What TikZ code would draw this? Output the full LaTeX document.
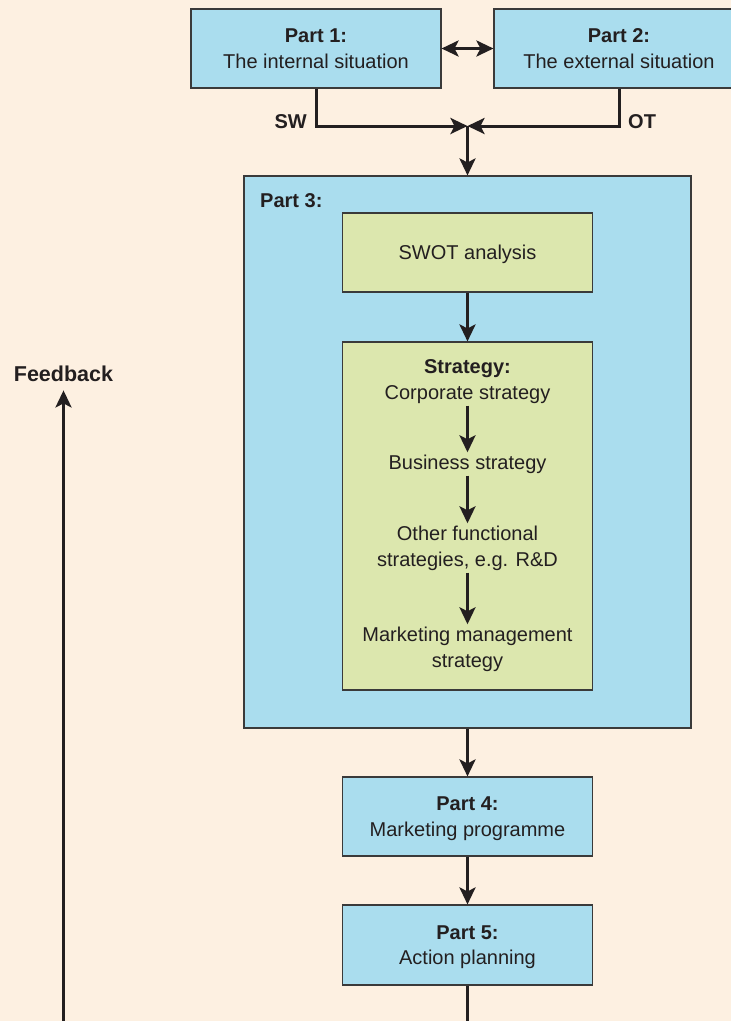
\documentclass[tikz,border=0pt]{standalone}
\usepackage{fontspec}
\setmainfont{Liberation Sans}
\usetikzlibrary{arrows.meta}
\definecolor{paper}{HTML}{FDF0E1}
\definecolor{skyfill}{HTML}{AADDEE}
\definecolor{leaffill}{HTML}{DCE7AE}
\definecolor{frame}{HTML}{3A3A3A}
\definecolor{ink}{HTML}{231F20}
\newcommand\labelfont{\fontsize{20}{25.5}\selectfont}
\begin{document}
\begin{tikzpicture}[x=1pt,y=-1pt,
  panel/.style={draw=frame,line width=1.1pt,fill=skyfill,minimum width=250pt,
    minimum height=79pt,inner sep=0pt,align=center,font=\labelfont,text=ink,
    text depth=0pt},
  stratbox/.style={panel,fill=leaffill},
  txtline/.style={font=\labelfont,text=ink,inner sep=2.5pt,text height=14pt,
    text depth=4pt,anchor=base},
  tag/.style={font=\labelfont\bfseries,text=ink,inner sep=0pt},
  flow/.style={draw=ink,line width=3pt,
    -{Stealth[length=17pt,width=16pt,inset=4pt]}},
  twoway/.style={draw=ink,line width=3pt,
    {Stealth[length=17pt,width=16pt,inset=4pt]}-{Stealth[length=17pt,width=16pt,inset=4pt]}},
  plain/.style={draw=ink,line width=3pt},
]
% page background
\fill[paper] (0,0) rectangle (731,1021);
\useasboundingbox (0,0) rectangle (731,1021);

% parts 1 and 2
\node[panel] (p1) at (316,48.5) {\textbf{Part 1:}\\The internal situation};
\node[panel] (p2) at (619,48.5) {\textbf{Part 2:}\\The external situation};
\draw[twoway] (p1.east) -- (p2.west);

% SW / OT merge
\coordinate (meet) at (467.5,126);
\draw[flow] (p1.south) |- (meet);
\draw[flow] (p2.south) |- (meet);
\node[tag,anchor=base east] (sw) at (307,128) {SW};
\node[tag,anchor=base west] (ot) at (628,128) {OT};

% part 3 frame
\node[panel,minimum width=447pt,minimum height=552pt] (p3) at (467.5,452) {};
\node[tag,anchor=base west] (p3t) at (260,207) {Part 3:};
\draw[flow] (meet) -- (p3.north);

% SWOT analysis
\node[stratbox] (swot) at (467.5,252.5) {SWOT analysis};

% strategy cascade
\node[stratbox,minimum height=348pt] (strat) at (467.5,516) {};
\draw[flow] (swot.south) -- (strat.north);
\node[txtline] (s0) at (467.5,373) {\textbf{Strategy:}};
\node[txtline] (s1) at (467.5,399) {Corporate strategy};
\node[txtline] (s2) at (467.5,469) {Business strategy};
\node[txtline] (s3a) at (467.5,540) {Other functional};
\node[txtline] (s3b) at (467.5,566) {strategies, e.g. R\&D};
\node[txtline] (s4a) at (467.5,641) {Marketing management};
\node[txtline] (s4b) at (467.5,667) {strategy};
\draw[flow] (s1.south) -- (s2.north);
\draw[flow] (s2.south) -- (s3a.north);
\draw[flow] (s3b.south) -- (s4a.north);

% parts 4 and 5
\node[panel] (p4) at (467.5,816.5) {\textbf{Part 4:}\\Marketing programme};
\node[panel,minimum height=80pt] (p5) at (467.5,945) {\textbf{Part 5:}\\Action planning};
\draw[flow] (p3.south) -- (p4.north);
\draw[flow] (p4.south) -- (p5.north);
\coordinate (tail) at (467.5,1021);
\draw[plain] (p5.south) -- (tail);

% feedback loop
\node[tag,anchor=base,font=\fontsize{21.5}{26}\selectfont\bfseries] (fb) at (63.5,381) {Feedback};
\coordinate (fbfoot) at (63.5,1021);
\draw[flow,shorten >=9pt] (fbfoot) -- (fb.south);
\end{tikzpicture}
\end{document}
